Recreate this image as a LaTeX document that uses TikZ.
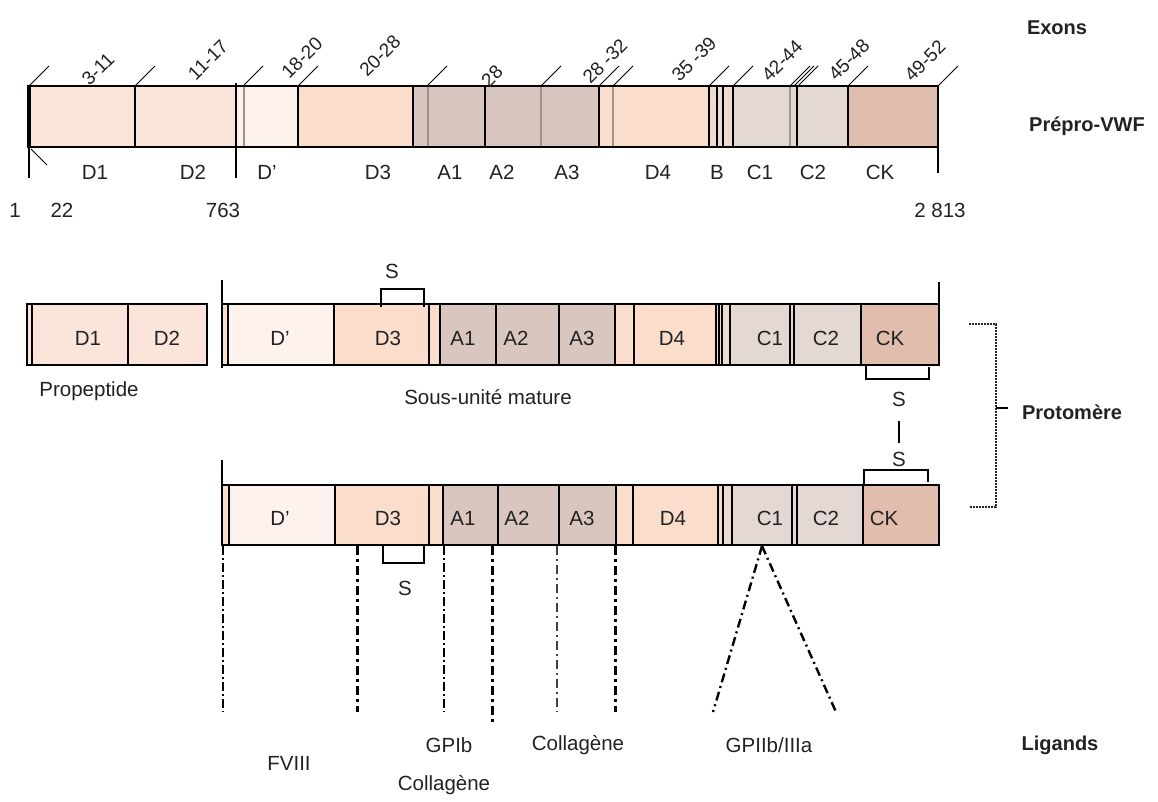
\documentclass[tikz,border=0pt]{standalone}
\usepackage{fontspec}
\setmainfont{Liberation Sans}
\definecolor{cDa}{HTML}{FBE4DA}
\definecolor{cDp}{HTML}{FDF2EE}
\definecolor{cDt}{HTML}{FBDDCC}
\definecolor{cA}{HTML}{D9C7BF}
\definecolor{cC}{HTML}{E3D8D3}
\definecolor{cCK}{HTML}{E0BDAC}
\definecolor{cGr}{HTML}{A0928C}
\definecolor{txt}{HTML}{222222}
\begin{document}
\begin{tikzpicture}[x=1pt,y=-1pt,
  lbl/.style={font=\fontsize{20.5}{24}\selectfont, text=txt, inner sep=0pt},
  blbl/.style={font=\fontsize{20}{24}\selectfont\bfseries, text=txt, inner sep=0pt},
  exl/.style={font=\fontsize{19}{22}\selectfont, text=txt, inner sep=0pt, rotate=45},
  bl/.style={line width=1.2pt, black},
  gl/.style={line width=2pt, cGr},
  tk/.style={line width=1pt, black},
  thinDD/.style={line width=1.1pt, dash pattern=on 9pt off 3pt on 2pt off 3pt},
  thickDD/.style={line width=3pt, dash pattern=on 9pt off 4pt on 3pt off 4pt},
  medDD/.style={line width=1.8pt, dash pattern=on 9pt off 4pt on 2pt off 4pt}]
\useasboundingbox (0,0) rectangle (1158,801);

% ================= Top bar: Prepro-VWF =================
\fill[cDa] (27,86) rectangle (236,147);
\fill[cDp] (236,86) rectangle (298,147);
\fill[cDt] (298,86) rectangle (413,147);
\fill[cA] (413,86) rectangle (598,147);
\fill[cDt] (598,86) rectangle (709,147);
\fill[cC!60!cDt] (709,86) rectangle (733,147);
\fill[cC] (733,86) rectangle (848,147);
\fill[cCK] (848,86) rectangle (938,147);
\foreach \x in {244,428,541,613,790} \draw[gl] (\x,86) -- (\x,147);
\foreach \x in {135,298,413,485,709,717,723,797} \draw[bl] (\x,86) -- (\x,147);
\draw[line width=2.6pt] (599,86) -- (599,147);
\draw[line width=2.6pt] (733,86) -- (733,147);
\draw[line width=2.6pt] (848,86) -- (848,147);
\draw[line width=4pt] (29,86) -- (29,147);
\draw[bl] (27,86) -- (938,86) -- (938,147) -- (27,147);
\draw[bl] (236,83) -- (236,178);
\draw[bl] (938,147) -- (938,173);
\draw[bl] (29,147) -- (29,178);
\draw[tk] (31,149) -- (47,165);
\foreach \x in {29,135,243,298,427,541,599,613,709,733,790,794,798,848,938}
  \draw[tk] (\x,86) -- ++(20,-20);

% exon labels
\node[exl] (e1) at (98,69) {3-11};
\node[exl] (e2) at (208,60) {11-17};
\node[exl] (e3) at (302,58) {18-20};
\node[exl] (e4) at (380,56) {20-28};
\node[exl] (e5) at (492,76) {28};
\node[exl] (e6) at (605,61) {28 -32};
\node[exl] (e7) at (694,59) {35 -39};
\node[exl] (e8) at (782,61) {42-44};
\node[exl] (e9) at (849,60) {45-48};
\node[exl] (e10) at (925,61) {49-52};
\node[blbl] (exons) at (1057,28) {Exons};
\node[blbl] (prepro) at (1087,126) {Prépro-VWF};

% domain labels top
\foreach \t/\x in {D1/95,D2/193,D'/267,D3/378,A1/450,A2/502,A3/567,D4/658,B/717,C1/760,C2/813,CK/880}
  \node[lbl] at (\x,172) {\t};
\node[lbl] (n1) at (15,210) {1};
\node[lbl] (n22) at (62,210) {22};
\node[lbl] (n763) at (223,210) {763};
\node[lbl] (n2813) at (940,210) {2 813};

% ================= Middle row =================
% propeptide
\fill[cDa] (27,304) rectangle (207,365);
\draw[bl] (27,304) rectangle (207,365);
\draw[bl] (32,304) -- (32,365);
\draw[bl] (128,304) -- (128,365);
\node[lbl] (pD1) at (88,338) {D1};
\node[lbl] (pD2) at (167,338) {D2};
\node[lbl] (prop) at (89,391) {Propeptide};

% mature subunit
\fill[cDt] (222,304) rectangle (228,365);
\fill[cDp] (228,304) rectangle (334,365);
\fill[cDt] (334,304) rectangle (440,365);
\fill[cA] (440,304) rectangle (615,365);
\fill[cDt] (615,304) rectangle (716,365);
\fill[cC!60!cDt] (716,304) rectangle (730,365);
\fill[cC] (730,304) rectangle (861,365);
\fill[cCK] (861,304) rectangle (939,365);
\foreach \x in {228,334,429,440,496,559,615,634,716,719,722,730,790,794}
  \draw[bl] (\x,304) -- (\x,365);
\draw[line width=2.4pt] (861,304) -- (861,365);
\draw[bl] (222,304) rectangle (939,365);
\draw[bl] (222,280) -- (222,368);
\draw[bl] (939,282) -- (939,304);
\foreach \t/\x in {D'/280,D3/388,A1/463,A2/516,A3/582,D4/672,C1/770,C2/826,CK/890}
  \node[lbl] at (\x,338) {\t};
\node[lbl] (mature) at (488,397) {Sous-unité mature};
% S bridges
\draw[bl] (381,307) -- (381,289) -- (424,289) -- (424,307);
\node[lbl] (s1) at (392,271) {S};
\draw[bl] (866,365) -- (866,379) -- (929,379) -- (929,367);
\node[lbl] (s2) at (899,399) {S};
\draw[bl] (899,421) -- (899,443);
\node[lbl] (s3) at (899,459) {S};
\draw[bl] (864,485) -- (864,470) -- (928,470) -- (928,482);

% Protomere bracket
\draw[line width=1.6pt, black!85, dash pattern=on 2pt off 1pt] (969,324) -- (996,324) -- (996,507) -- (969,507);
\draw[bl] (996,408) -- (1008,408);
\node[blbl] (proto) at (1072,412) {Protomère};

% ================= Bottom row =================
\fill[cDt] (222,485) rectangle (229,545);
\fill[cDp] (229,485) rectangle (335,545);
\fill[cDt] (335,485) rectangle (443,545);
\fill[cA] (443,485) rectangle (616,545);
\fill[cDt] (616,485) rectangle (718,545);
\fill[cC!60!cDt] (718,485) rectangle (732,545);
\fill[cC] (732,485) rectangle (863,545);
\fill[cCK] (863,485) rectangle (939,545);
\foreach \x in {229,335,429,443,498,559,616,633,718,732,792,797}
  \draw[bl] (\x,485) -- (\x,545);
\draw[line width=2.4pt] (723,485) -- (723,545);
\draw[line width=2.4pt] (863,485) -- (863,545);
\draw[bl] (222,485) rectangle (939,545);
\draw[bl] (222,460) -- (222,545);
\foreach \t/\x in {D'/280,D3/388,A1/463,A2/517,A3/582,D4/673,C1/770,C2/826,CK/884}
  \node[lbl] at (\x,518) {\t};
\draw[bl] (383,545) -- (383,563) -- (424,563) -- (424,545);
\node[lbl] (s4) at (405,588) {S};

% ================= Ligands =================
\coordinate (a1) at (223,546); \coordinate (b1) at (223,712);
\coordinate (a2) at (357,546); \coordinate (b2) at (357,712);
\coordinate (a3) at (444,546); \coordinate (b3) at (444,712);
\coordinate (a4) at (492,546); \coordinate (b4) at (492,722);
\coordinate (a5) at (557,546); \coordinate (b5) at (557,712);
\coordinate (a6) at (615,546); \coordinate (b6) at (615,712);
\coordinate (apex) at (762,546);
\coordinate (vl) at (713,712); \coordinate (vr) at (836,712);
\draw[thinDD, line width=1.5pt] (a1) -- (b1);
\draw[thickDD] (a2) -- (b2);
\draw[thinDD] (a3) -- (b3);
\draw[thickDD] (a4) -- (b4);
\draw[medDD, black!75] (a5) -- (b5);
\draw[thickDD] (a6) -- (b6);
\draw[medDD, line width=2.4pt] (apex) -- (vl);
\draw[medDD, line width=2.4pt] (apex) -- (vr);
\node[lbl] (fviii) at (289,763) {FVIII};
\node[lbl] (gpib) at (449,745) {GPIb};
\node[lbl] (coll1) at (444,785) {Collagène};
\node[lbl] (coll2) at (578,745) {Collagène};
\node[lbl] (gp2) at (769,745) {GPIIb/IIIa};
\node[blbl] (lig) at (1060,745) {Ligands};
\end{tikzpicture}
\end{document}
